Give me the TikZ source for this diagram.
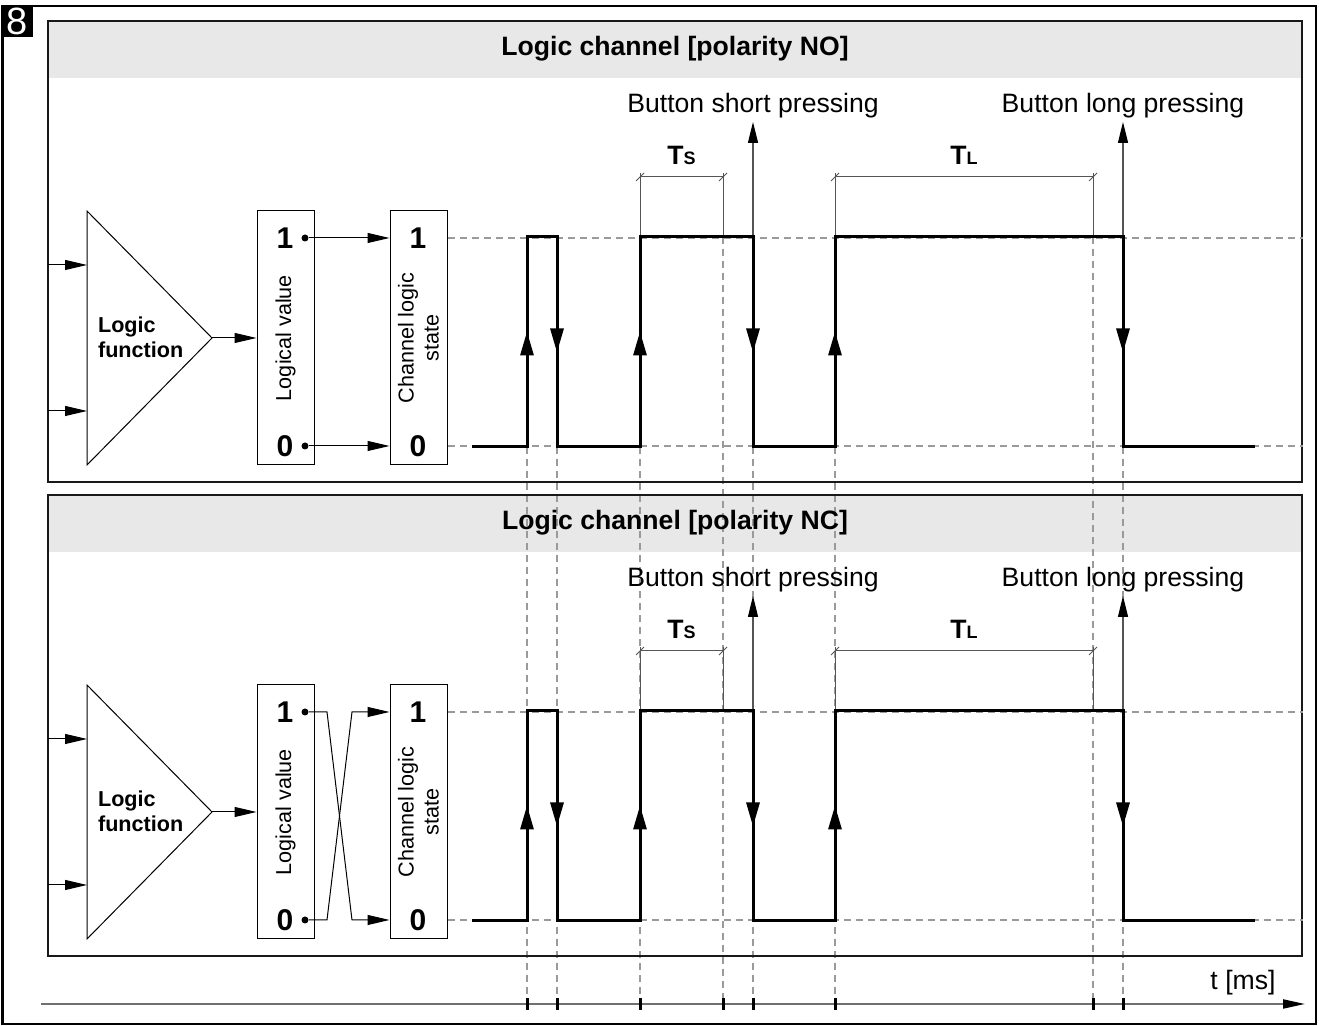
\documentclass[tikz,border=0pt]{standalone}
\usepackage{fontspec}
\setmainfont{Liberation Sans}
\usetikzlibrary{arrows.meta,decorations.markings,positioning}

\definecolor{hdrgray}{HTML}{E8E8E8}
\definecolor{guidegray}{HTML}{9A9A9A}
\definecolor{dimgray}{HTML}{555555}
\definecolor{axisgray}{HTML}{707070}

\newcommand{\lblfont}{\fontsize{13.3}{16}\selectfont}
\newcommand{\boxfont}{\fontsize{10.8}{12.5}\selectfont}
\newcommand{\digfont}{\bfseries\fontsize{15}{15}\selectfont}

\pgfdeclarelayer{back}
\pgfsetlayers{back,main}

\tikzset{
  panel/.style={line width=0.75pt, black!90},
  thinline/.style={line width=0.5pt},
  inarrow/.style={thinline, -{Triangle[length=11pt,width=5pt]}},
  guide/.style={guidegray, line width=1pt, dash pattern=on 3.5pt off 2.5pt},
  wave/.style={line width=1.5pt, line join=miter},
  edgemark/.style={wave, postaction={decorate}, decoration={markings,
      mark=at position 0.55 with {\arrow{Triangle[length=12pt,width=6.5pt]}}}},
  dimline/.style={dimgray, line width=0.5pt},
  pressarrow/.style={dimgray, line width=0.6pt, -{Triangle[length=10.5pt,width=5pt,color=black]}},
  blockbox/.style={draw, line width=0.5pt, minimum width=28.5pt, minimum height=127pt, inner sep=0pt},
  digit/.style={font=\digfont, inner sep=0pt},
  contact/.style={circle, fill=black, inner sep=0pt, minimum size=3.5pt},
  tickmark/.style={line width=1.5pt},
}

\begin{document}
\begin{tikzpicture}[x=0.5pt,y=0.5pt]
\useasboundingbox (0,0) rectangle (1319,1026);
% outer frame and figure number
\draw[line width=1.25pt] (2.5,2) rectangle (1316,1020);
\node[fill=black, text=white, font=\fontsize{19}{19}\selectfont, minimum size=16pt, inner sep=0pt] (fignum) at (17,1005) {8};

% both panels (NO above, NC below)
\foreach \pol/\dy/\mode in {NO/0/0,NC/-474/1}{
\begin{scope}[shift={(0,\dy)}]
  % panel with header
  \begin{pgfonlayer}{back}
    \fill[hdrgray] (48,948) rectangle (1302,1005);
  \end{pgfonlayer}
  \draw[panel] (48,544) rectangle (1302,1005);
  \node[font=\lblfont\bfseries] (title\pol) at (675,977) {Logic channel [polarity \pol]};

  % logic function block
  \coordinate (ft\pol) at (87,815); \coordinate (fb\pol) at (87,561);
  \coordinate (fo\pol) at (212,688);
  \draw[thinline] (ft\pol) -- (fb\pol) -- (fo\pol) -- cycle;
  \node[font=\boxfont\bfseries, align=left, anchor=west] (fname\pol) at (91,689) {Logic\\function};
  \coordinate (ina\pol) at (48,761); \coordinate (inb\pol) at (48,615);
  \draw[inarrow] (ina\pol) -- (ina\pol -| ft\pol);
  \draw[inarrow] (inb\pol) -- (inb\pol -| ft\pol);

  % logical value and channel state
  \node[blockbox] (lv\pol) at (285.5,688) {};
  \node[blockbox] (cs\pol) at (418.5,688) {};
  \draw[inarrow] (fo\pol) -- (lv\pol.west);
  \node[rotate=90, font=\boxfont] at (lv\pol.center) {Logical value};
  \node[rotate=90, font=\boxfont, align=center] at (cs\pol.center) {Channel logic\\state};
  \node[digit] (lvone\pol) at (285,788) {1}; \node[digit] (lvzero\pol) at (285,580) {0};
  \node[digit] (csone\pol) at (418,788) {1}; \node[digit] (cszero\pol) at (418,580) {0};
  \node[contact] (pone\pol) at (305,788) {}; \node[contact] (pzero\pol) at (305,580) {};
  \ifnum\mode=0
    \draw[inarrow] (pone\pol) -- (pone\pol -| cs\pol.west);
    \draw[inarrow] (pzero\pol) -- (pzero\pol -| cs\pol.west);
  \else
    \draw[inarrow] (pone\pol) -- ++(22,0) -- ++(25,-208) -- (pzero\pol -| cs\pol.west);
    \draw[inarrow] (pzero\pol) -- ++(22,0) -- ++(25,208) -- (pone\pol -| cs\pol.west);
  \fi

  % logic levels
  \draw[guide] (cs\pol.east |- csone\pol) -- ++(855,0);
  \draw[guide] (cs\pol.east |- cszero\pol) -- ++(855,0);

  % timing marks
  \foreach \a/\b/\s in {640/723/S,835/1093/L}{
    \draw[dimline] (\a,789) -- (\a,853) (\b,789) -- (\b,853) (\a,849) -- (\b,849);
    \draw[dimline] (\a-4,845) -- (\a+4,853) (\b-4,845) -- (\b+4,853);
    \node[font=\lblfont\bfseries, anchor=base] at ({(\a+\b)/2},861) {T{\fontsize{9}{9}\selectfont\s}};
  }

  % button pressings
  \foreach \x/\txt in {753/short,1123/long}{
    \draw[pressarrow] (\x,789) -- (\x,904);
    \node[font=\lblfont, anchor=base] at (\x,913) {Button \txt\ pressing};
  }
\end{scope}
}

% vertical guides down to the time axis
\begin{pgfonlayer}{back}
  \foreach \gx/\gy in {527/579,557/579,640/579,723/789,753/579,835/579,1093/789,1123/579}
    \draw[guide] (\gx,\gy) -- (\gx,22);
\end{pgfonlayer}

% signals
\foreach \dy in {0,-474}{
\begin{scope}[shift={(0,\dy)}]
  \draw[wave] (472,579) -| (527,789) -| (557,579) -| (640,789) -| (753,579)
    -| (835,789) -| (1123,579) -- (1255,579);
  \foreach \x in {527,640,835} \draw[edgemark] (\x,579) -- (\x,789);
  \foreach \x in {557,753,1123} \draw[edgemark] (\x,789) -- (\x,579);
\end{scope}
}

% time axis
\coordinate (t0) at (41,22); \coordinate (tend) at (1305,22);
\draw[axisgray, line width=1pt, -{Triangle[length=11pt,width=4.5pt,color=black]}] (t0) -- (tend);
\node[font=\lblfont] (tlabel) at (1243,43) {t [ms]};
\foreach \x in {527,557,640,723,753,835,1093,1123} \draw[tickmark] (\x,16) -- (\x,28);
\end{tikzpicture}
\end{document}
